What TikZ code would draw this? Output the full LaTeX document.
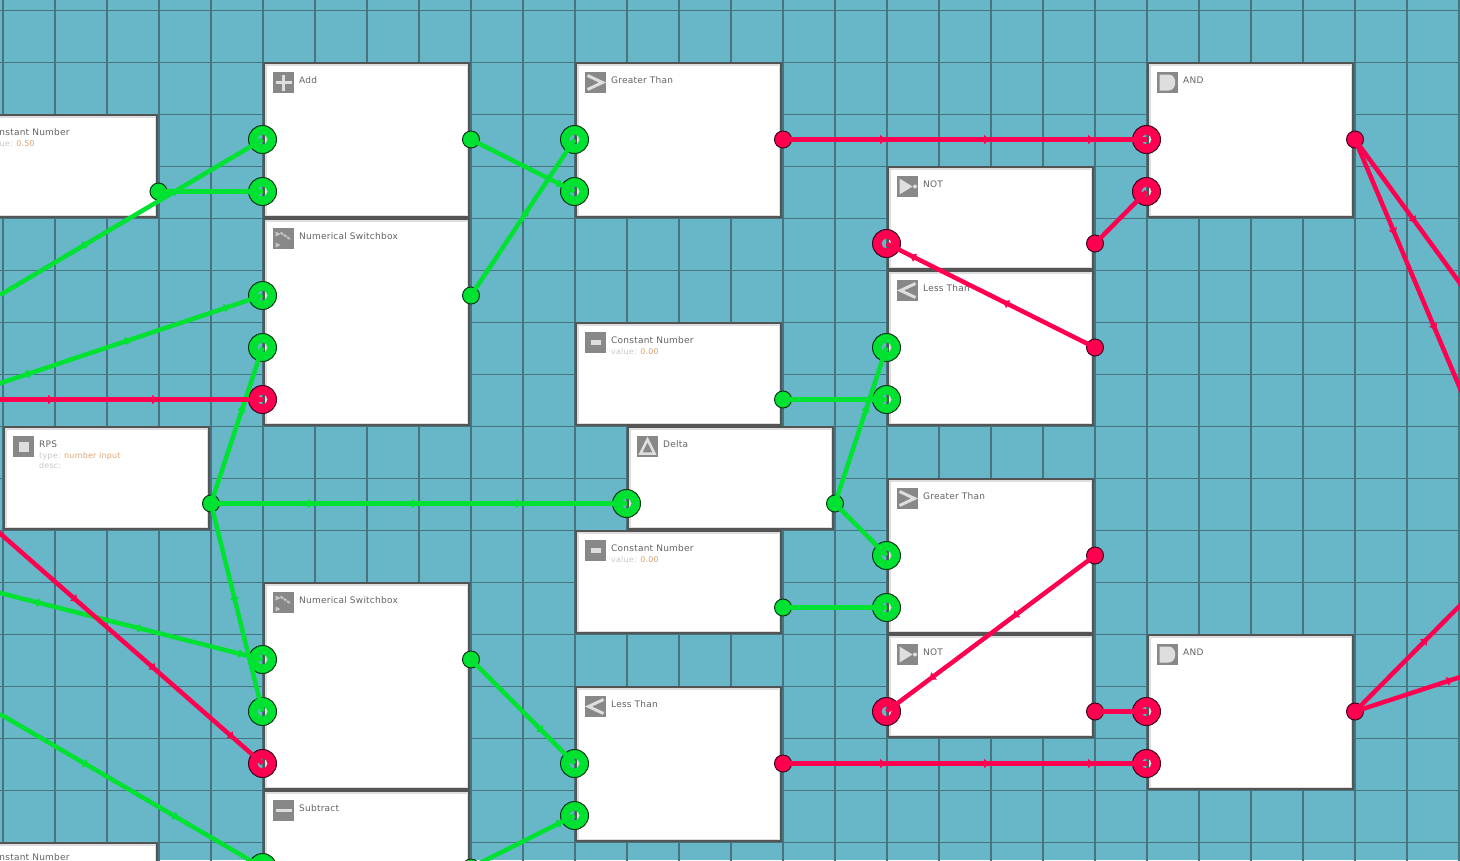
\documentclass[tikz,border=0pt]{standalone}
\usepackage{fontspec}
\setmainfont[LetterSpace=2.5]{DejaVu Sans}
\usetikzlibrary{
  arrows.meta,
  decorations.markings,
  positioning,
}
\definecolor{gridbg}{RGB}{104, 183, 200}
\definecolor{gridline}{RGB}{72, 116, 128}
\definecolor{boxdark}{RGB}{84, 84, 84}
\definecolor{boxrim}{RGB}{222, 222, 224}
\definecolor{icongrey}{RGB}{136, 136, 136}
\definecolor{iconlight}{RGB}{222, 222, 222}
\definecolor{titlegrey}{RGB}{100, 100, 100}
\definecolor{subgrey}{RGB}{200, 200, 200}
\definecolor{valorange}{RGB}{226, 164, 112}
\definecolor{wiregreen}{RGB}{0, 226, 50}
\definecolor{wirered}{RGB}{255, 0, 80}
\definecolor{darkgreen}{RGB}{8, 56, 20}
\definecolor{darkred}{RGB}{64, 0, 30}
\tikzset{
  block/.style={draw=boxdark,line width=2pt,rectangle,anchor=north west,outer sep=0pt,minimum width=205pt,inner sep=0pt,fill=boxrim,
    path picture={\fill[white] ([shift={(2.5pt,-2.5pt)}]path picture bounding box.north west) rectangle ([shift={(-2.5pt,2.5pt)}]path picture bounding box.south east);}},
  short/.style={block,minimum height=102pt},
  mid/.style={block,minimum height=154pt},
  tall/.style={block,minimum height=206pt},
  icon/.style={rectangle,fill=icongrey,minimum size=21pt,inner sep=0pt,outer sep=0pt,anchor=north west},
  title/.style={font=\fontsize{9pt}{11pt}\selectfont,text=titlegrey,inner sep=0pt,text height=7pt,text depth=2pt,anchor=west},
  sub/.style={font=\fontsize{8pt}{10pt}\selectfont,text=subgrey,inner sep=0pt,anchor=north west,align=left},
  glyph/.style={path picture={\begin{scope}[shift={(path picture bounding box.center)},iconlight,line width=3pt]#1\end{scope}}},
  iconplus/.style={icon,glyph={\draw (-8,0) -- (8,0); \draw (0,-8) -- (0,8);}},
  iconminus/.style={icon,glyph={\fill (-5,-2.5) rectangle (5,2.5);}},
  iconbar/.style={icon,glyph={\fill (-8,-1.8) rectangle (8,1.8);}},
  icongt/.style={icon,glyph={\draw (-8,-7) -- (7,0) -- (-8,7);}},
  iconlt/.style={icon,glyph={\draw (8,-7) -- (-7,0) -- (8,7);}},
  iconnot/.style={icon,glyph={\fill (-8,-8) -- (5,0) -- (-8,8) -- cycle; \fill (7.5,0) circle (2);}},
  iconand/.style={icon,glyph={\fill (-8,-8) -- (1,-8) .. controls (10,-8) and (10,8) .. (1,8) -- (-8,8) -- cycle;}},
  icondelta/.style={icon,glyph={\draw[line width=2.5pt] (-7,7) -- (0,-7) -- (7,7) -- cycle;}},
  iconsquare/.style={icon,glyph={\fill (-5,-5) rectangle (5,5);}},
  iconswitch/.style={icon,glyph={\fill[black!22] (-8,-7) -- (-3,-4.5) -- (-8,-2) -- cycle; \fill[black!22] (-8,4) -- (-3,6.5) -- (-8,9) -- cycle; \draw[black!22,line width=2pt,dash pattern=on 3pt off 1pt] (-3,-6) -- (7,1);}},
  outgreen/.style={circle,draw=darkgreen,line width=1pt,fill=wiregreen,minimum size=17pt,inner sep=0pt},
  outred/.style={circle,draw=darkred,line width=1pt,fill=wirered,minimum size=17pt,inner sep=0pt},
  ring/.style={circle,line width=1pt,minimum size=28pt,inner sep=0pt,
    path picture={\fill[#1,even odd rule] (path picture bounding box.center) circle (16pt) circle (5pt);}},
  ingreen/.style={ring=wiregreen,draw=darkgreen},
  inred/.style={ring=wirered,draw=darkred},
  wire/.style={line width=4.5pt,postaction={decorate,decoration={markings,
    mark=between positions 104pt and 1 step 104pt with {\arrow[#1]{Latex[length=7pt,width=10pt]}}}}},
  gwire/.style={wire=wiregreen,draw=wiregreen},
  rwire/.style={wire=wirered,draw=wirered},
}
\begin{document}
\begin{tikzpicture}[x=1pt,y=-1pt]
      \useasboundingbox (0,0) rectangle (1460,860);
      \clip (0,0) rectangle (1460,860);
      \fill[gridbg] (0,0) rectangle (1460,860);
      \draw[gridline,line width=1.6pt,step=52pt,xshift=2.7pt,yshift=-10.6pt] (-10,-20) grid (1470,880);

      % blocks, left column
      \node[short] (constA) at (-48,115) {};
      \node[iconminus] (iconA) [below right=9pt and 9pt of constA.north west] {};
      \node[title] (titleA) [right=5pt of iconA.east,yshift=2pt] {Constant Number};
      \node[sub] (subA) [below=3.5pt of titleA.south west,anchor=north west] {value: \textcolor{valorange}{0.50}};

      \node[mid] (add) at (264,63) {};
      \node[iconplus] (iconB) [below right=9pt and 9pt of add.north west] {};
      \node[title] (titleB) [right=5pt of iconB.east,yshift=2pt] {Add};

      \node[tall] (swA) at (264,219) {};
      \node[iconswitch] (iconC) [below right=9pt and 9pt of swA.north west] {};
      \node[title] (titleC) [right=5pt of iconC.east,yshift=2pt] {Numerical Switchbox};

      \node[short] (rps) at (4,427) {};
      \node[iconsquare] (iconD) [below right=9pt and 9pt of rps.north west] {};
      \node[title] (titleD) [right=5pt of iconD.east,yshift=2pt] {RPS};
      \node[sub] (subD) [below=3.5pt of titleD.south west,anchor=north west] {type: \textcolor{valorange}{number input}\\desc:};

      \node[tall] (swB) at (264,583) {};
      \node[iconswitch] (iconE) [below right=9pt and 9pt of swB.north west] {};
      \node[title] (titleE) [right=5pt of iconE.east,yshift=2pt] {Numerical Switchbox};

      \node[mid] (subtr) at (264,791) {};
      \node[iconbar] (iconF) [below right=9pt and 9pt of subtr.north west] {};
      \node[title] (titleF) [right=5pt of iconF.east,yshift=2pt] {Subtract};

      \node[short] (constB) at (-48,843) {};
      \node[title] (titleG) at (-13,858) {Constant Number};

      % blocks, middle column
      \node[mid] (gtA) at (576,63) {};
      \node[icongt] (iconH) [below right=9pt and 9pt of gtA.north west] {};
      \node[title] (titleH) [right=5pt of iconH.east,yshift=2pt] {Greater Than};

      \node[short] (constC) at (576,323) {};
      \node[iconminus] (iconI) [below right=9pt and 9pt of constC.north west] {};
      \node[title] (titleI) [right=5pt of iconI.east,yshift=2pt] {Constant Number};
      \node[sub] (subI) [below=3.5pt of titleI.south west,anchor=north west] {value: \textcolor{valorange}{0.00}};

      \node[short] (delta) at (628,427) {};
      \node[icondelta] (iconJ) [below right=9pt and 9pt of delta.north west] {};
      \node[title] (titleJ) [right=5pt of iconJ.east,yshift=2pt] {Delta};

      \node[short] (constD) at (576,531) {};
      \node[iconminus] (iconK) [below right=9pt and 9pt of constD.north west] {};
      \node[title] (titleK) [right=5pt of iconK.east,yshift=2pt] {Constant Number};
      \node[sub] (subK) [below=3.5pt of titleK.south west,anchor=north west] {value: \textcolor{valorange}{0.00}};

      \node[mid] (ltA) at (576,687) {};
      \node[iconlt] (iconL) [below right=9pt and 9pt of ltA.north west] {};
      \node[title] (titleL) [right=5pt of iconL.east,yshift=2pt] {Less Than};

      % blocks, right columns
      \node[short] (notA) at (888,167) {};
      \node[iconnot] (iconM) [below right=9pt and 9pt of notA.north west] {};
      \node[title] (titleM) [right=5pt of iconM.east,yshift=2pt] {NOT};

      \node[mid] (ltB) at (888,271) {};
      \node[iconlt] (iconN) [below right=9pt and 9pt of ltB.north west] {};
      \node[title] (titleN) [right=5pt of iconN.east,yshift=2pt] {Less Than};

      \node[mid] (gtB) at (888,479) {};
      \node[icongt] (iconO) [below right=9pt and 9pt of gtB.north west] {};
      \node[title] (titleO) [right=5pt of iconO.east,yshift=2pt] {Greater Than};

      \node[short] (notB) at (888,635) {};
      \node[iconnot] (iconP) [below right=9pt and 9pt of notB.north west] {};
      \node[title] (titleP) [right=5pt of iconP.east,yshift=2pt] {NOT};

      \node[mid] (andA) at (1148,63) {};
      \node[iconand] (iconQ) [below right=9pt and 9pt of andA.north west] {};
      \node[title] (titleQ) [right=5pt of iconQ.east,yshift=2pt] {AND};

      \node[mid] (andB) at (1148,635) {};
      \node[iconand] (iconR) [below right=9pt and 9pt of andB.north west] {};
      \node[title] (titleR) [right=5pt of iconR.east,yshift=2pt] {AND};

      % ports
      \begin{scope}[shift={(0.5,0.5)}]
      \node[outgreen] (constAo) at (158,191) {};
      \node[ingreen] (addi0) at (262,139) {};
      \node[ingreen] (addi1) at (262,191) {};
      \node[outgreen] (addo) at (470.5,139) {};
      \node[ingreen] (swAi0) at (262,295) {};
      \node[ingreen] (swAi1) at (262,347) {};
      \node[inred] (swAi2) at (262,399) {};
      \node[outgreen] (swAo) at (470.5,295) {};
      \node[outgreen] (rpso) at (210.5,503) {};
      \node[ingreen] (swBi0) at (262,659) {};
      \node[ingreen] (swBi1) at (262,711) {};
      \node[inred] (swBi2) at (262,763) {};
      \node[outgreen] (swBo) at (470.5,659) {};
      \node[ingreen] (subtri) at (262,867) {};
      \node[outgreen] (subtro) at (470.5,867) {};
      \node[ingreen] (gtAi0) at (574,139) {};
      \node[ingreen] (gtAi1) at (574,191) {};
      \node[outred] (gtAo) at (782.5,139) {};
      \node[outgreen] (constCo) at (782.5,399) {};
      \node[ingreen] (deltai) at (626,503) {};
      \node[outgreen] (deltao) at (834.5,503) {};
      \node[outgreen] (constDo) at (782.5,607) {};
      \node[ingreen] (ltAi0) at (574,763) {};
      \node[ingreen] (ltAi1) at (574,815) {};
      \node[outred] (ltAo) at (782.5,763) {};
      \node[inred] (notAi) at (886,243) {};
      \node[outred] (notAo) at (1094.5,243) {};
      \node[ingreen] (ltBi0) at (886,347) {};
      \node[ingreen] (ltBi1) at (886,399) {};
      \node[outred] (ltBo) at (1094.5,347) {};
      \node[ingreen] (gtBi0) at (886,555) {};
      \node[ingreen] (gtBi1) at (886,607) {};
      \node[outred] (gtBo) at (1094.5,555) {};
      \node[inred] (notBi) at (886,711) {};
      \node[outred] (notBo) at (1094.5,711) {};
      \node[inred] (andAi0) at (1146,139) {};
      \node[inred] (andAi1) at (1146,191) {};
      \node[outred] (andAo) at (1354.5,139) {};
      \node[inred] (andBi0) at (1146,711) {};
      \node[inred] (andBi1) at (1146,763) {};
      \node[outred] (andBo) at (1354.5,711) {};
      \end{scope}

      % free ends past the frame
      \coordinate (offA) at (0,295);
      \coordinate (offB) at (-65,405);
      \coordinate (offC) at (-49,399.5);
      \coordinate (offD) at (-57,578.5);
      \coordinate (offE) at (-78,465);
      \coordinate (offF) at (0,714);
      \coordinate (offG) at (1500,338);
      \coordinate (offH) at (1500,483);
      \coordinate (offI) at (1500,565);
      \coordinate (offJ) at (1500,664);

      % green wires
      \draw[gwire] (constAo.center) -- (addi1.center);
      \draw[gwire] (offA) -- (addi0.center);
      \draw[gwire] (offB) -- (swAi0.center);
      \draw[gwire] (rpso.center) -- (swAi1.center);
      \draw[gwire] (rpso.center) -- (deltai.center);
      \draw[gwire] (rpso.center) -- (swBi1.center);
      \draw[gwire] (offD) -- (swBi0.center);
      \draw[gwire] (offF) -- (subtri.center);
      \draw[gwire] (addo.center) -- (gtAi1.center);
      \draw[gwire] (swAo.center) -- (gtAi0.center);
      \draw[gwire] (swBo.center) -- (ltAi0.center);
      \draw[gwire] (subtro.center) -- (ltAi1.center);
      \draw[gwire] (constCo.center) -- (ltBi1.center);
      \draw[gwire] (deltao.center) -- (ltBi0.center);
      \draw[gwire] (deltao.center) -- (gtBi0.center);
      \draw[gwire,line width=5.5pt] (constDo.center) -- (gtBi1.center);

      % red wires
      \draw[rwire] (offC) -- (swAi2.center);
      \draw[rwire] (offE) -- (swBi2.center);
      \draw[rwire] (gtAo.center) -- (andAi0.center);
      \draw[rwire] (notAo.center) -- (andAi1.center);
      \draw[rwire] (ltBo.center) -- (notAi.center);
      \draw[rwire] (gtBo.center) -- (notBi.center);
      \draw[rwire,line width=5.5pt] (notBo.center) -- (andBi0.center);
      \draw[rwire] (ltAo.center) -- (andBi1.center);
      \draw[rwire] (andAo.center) -- (offG);
      \draw[rwire] (andAo.center) -- (offH);
      \draw[rwire] (andBo.center) -- (offI);
      \draw[rwire] (andBo.center) -- (offJ);

    \end{tikzpicture}
\end{document}
